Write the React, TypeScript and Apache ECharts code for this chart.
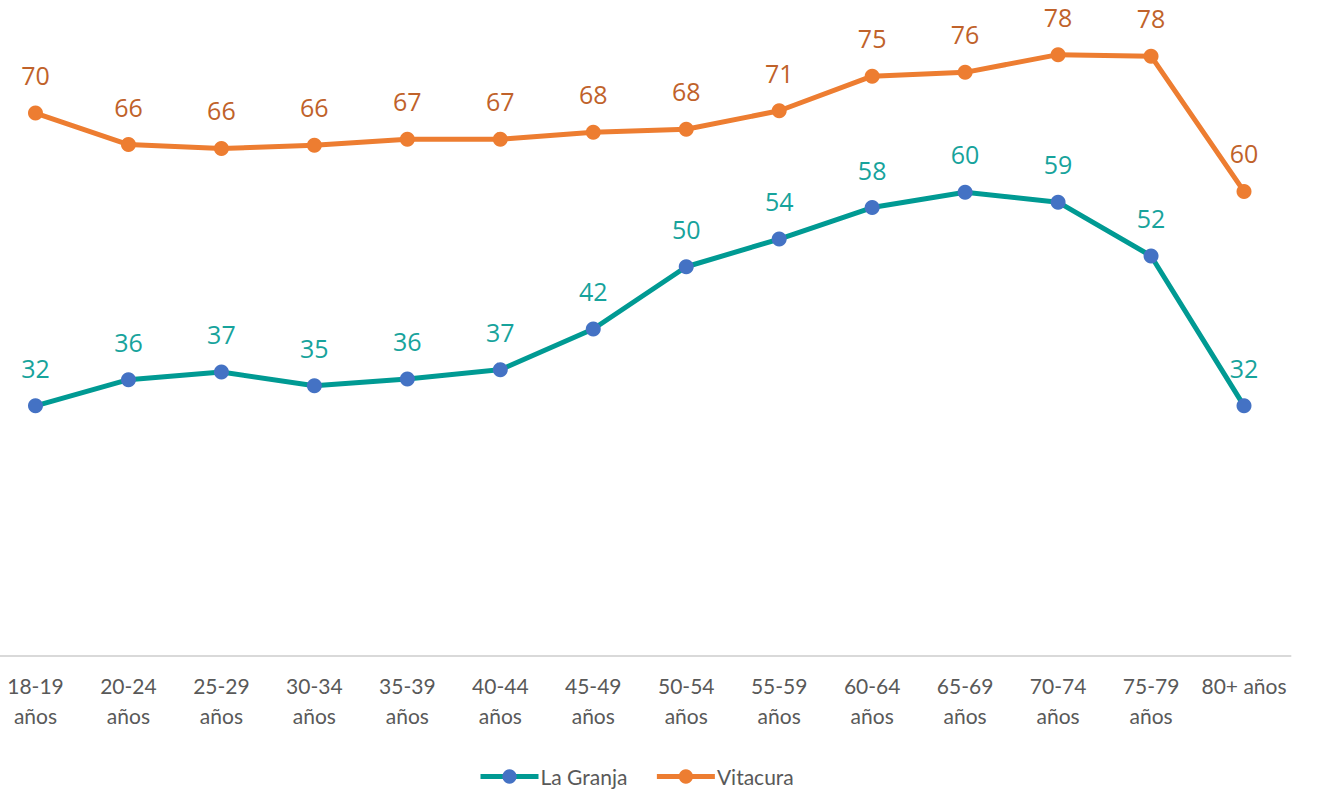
import React, { useEffect, useRef } from "react";
import * as echarts from "echarts";

const categories = [
  "18-19\naños", "20-24\naños", "25-29\naños", "30-34\naños", "35-39\naños",
  "40-44\naños", "45-49\naños", "50-54\naños", "55-59\naños", "60-64\naños",
  "65-69\naños", "70-74\naños", "75-79\naños", "80+ años",
];

const laGranja = [32.3, 35.7, 36.7, 34.9, 35.8, 37.0, 42.3, 50.4, 54.0, 58.1, 60.1, 58.8, 51.8, 32.3];
const vitacura = [70.4, 66.3, 65.8, 66.2, 67.0, 67.0, 67.9, 68.3, 70.7, 75.2, 75.7, 78.0, 77.8, 60.2];

const seriesNames = ["La Granja", "Vitacura"];

const SHIFT = 11;

export default function App() {
  const ref = useRef<HTMLDivElement>(null);

  useEffect(() => {
    if (!ref.current) return;
    const chart = echarts.init(ref.current, null, { renderer: "svg" });
    const labelFont = { fontFamily: "Open Sans", fontSize: 25 };
    chart.setOption({
      animation: false,
      backgroundColor: "#ffffff",
      grid: { left: 0, right: 26.5, top: 39.3, bottom: 133, containLabel: false },
      legend: {
        left: 473 + SHIFT,
        top: 761,
        itemWidth: 58,
        itemHeight: 18,
        itemGap: 27,
        lineStyle: { width: 5 },
        textStyle: { fontFamily: "Lato", fontSize: 21, color: "#595959", padding: [0, 0, 0, -3] },
        data: seriesNames,
      },
      xAxis: {
        type: "category",
        data: categories,
        boundaryGap: true,
        axisLine: { onZero: false, lineStyle: { color: "#d9d9d9", width: 2 } },
        axisTick: { show: false },
        axisLabel: {
          interval: 0,
          margin: 14,
          fontFamily: "Lato",
          fontSize: 21,
          lineHeight: 30,
          color: "#595959",
        },
      },
      yAxis: {
        type: "value",
        min: -0.26,
        max: 80,
        show: false,
        splitLine: { show: false },
      },
      series: [
        {
          name: seriesNames[0],
          type: "line",
          data: laGranja,
          symbol: "circle",
          symbolSize: 15,
          lineStyle: { color: "#009a93", width: 5 },
          itemStyle: { color: "#4472c4" },
          label: {
            show: true,
            position: "top",
            distance: 18,
            color: "#17a39c",
            ...labelFont,
            formatter: (p: any) => String(Math.round(p.value)),
          },
        },
        {
          name: seriesNames[1],
          type: "line",
          data: vitacura,
          symbol: "circle",
          symbolSize: 15,
          lineStyle: { color: "#ed7d31", width: 5 },
          itemStyle: { color: "#ed7d31" },
          label: {
            show: true,
            position: "top",
            distance: 18,
            color: "#c0622a",
            ...labelFont,
            formatter: (p: any) => String(Math.round(p.value)),
          },
        },
      ],
    });
    return () => chart.dispose();
  }, []);

  return (
    <div
      ref={ref}
      style={{ position: "fixed", left: -SHIFT, top: 0, width: 1317 + SHIFT, height: 789 }}
    />
  );
}
